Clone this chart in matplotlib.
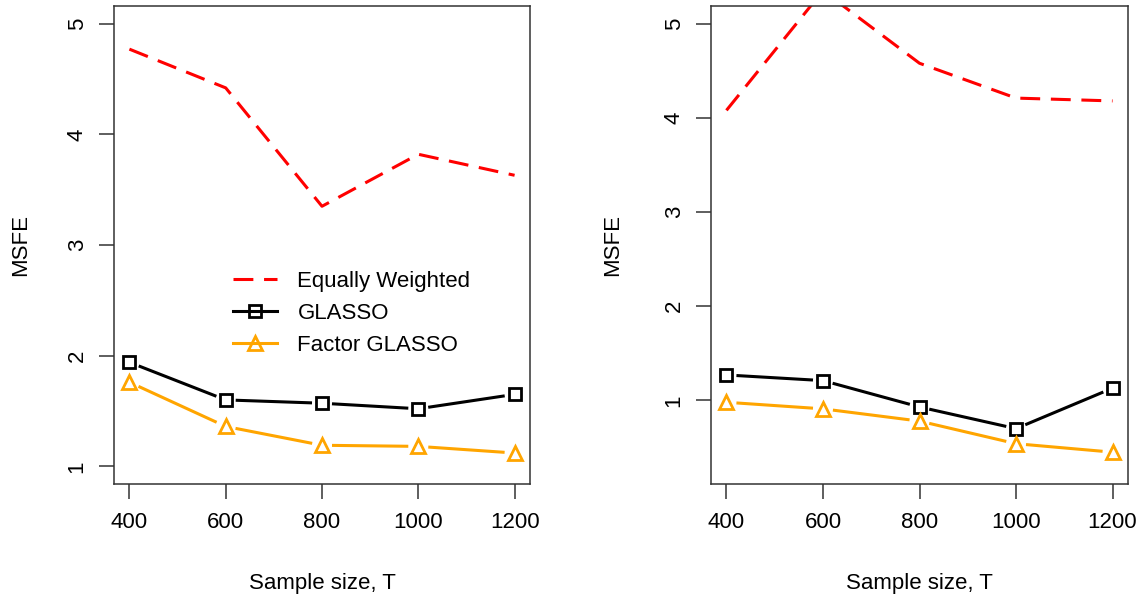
import numpy as np
import matplotlib.pyplot as plt
from matplotlib.lines import Line2D

plt.rcParams['font.family'] = ['Liberation Sans', 'DejaVu Sans']

# data
sample_size = [400, 600, 800, 1000, 1200]

left_equal = [4.77, 4.42, 3.35, 3.82, 3.63]
left_glasso = [1.94, 1.60, 1.57, 1.52, 1.65]
left_factor = [1.76, 1.36, 1.19, 1.18, 1.12]

right_equal = [4.08, 5.35, 4.58, 4.21, 4.18]
right_glasso = [1.27, 1.21, 0.93, 0.70, 1.13]
right_factor = [0.98, 0.91, 0.78, 0.54, 0.45]

y_ticks = [1, 2, 3, 4, 5]
legend_labels = ["Equally Weighted", "GLASSO", "Factor GLASSO"]

RED = "#FF0000"
ORANGE = "#FFA500"
FS = 16
W, H = 1142, 598
GAP = 10  # px gap around points, like R type="b"
DASH = (0, (6.5, 3.5))


def gapped_line(ax, x, y, color, gap=GAP, **kw):
    # draw each segment shortened by gap pixels at both ends
    pts = ax.transData.transform(np.column_stack([x, y]))
    inv = ax.transData.inverted()
    for a, b in zip(pts[:-1], pts[1:]):
        d = b - a
        L = np.hypot(*d)
        if L <= 2 * gap:
            continue
        u = d / L
        seg = inv.transform(np.array([a + u * gap, b - u * gap]))
        ax.plot(seg[:, 0], seg[:, 1], color=color, lw=2.2,
                solid_capstyle='butt', **kw)


def panel(ax, eq, gl, fa, ylim):
    ax.set_xlim(368, 1232)
    ax.set_ylim(*ylim)
    ax.plot(sample_size, eq, color=RED, lw=2.2, linestyle=DASH,
            dash_capstyle='butt')
    gapped_line(ax, sample_size, gl, 'black')
    ax.plot(sample_size, gl, linestyle='none', marker='s', ms=8.5,
            mfc='none', mec='black', mew=2)
    gapped_line(ax, sample_size, fa, ORANGE)
    ax.plot(sample_size, fa, linestyle='none', marker='^', ms=10.5,
            mfc='none', mec=ORANGE, mew=2)
    ax.set_xticks(sample_size)
    ax.set_xticklabels([str(s) for s in sample_size])
    ax.set_yticks(y_ticks)
    ax.set_yticklabels([str(t) for t in y_ticks], rotation=90, va='center')
    ax.tick_params(labelsize=FS, length=11, width=1.1, color='#333333')
    ax.tick_params(axis='x', pad=9)
    ax.tick_params(axis='y', pad=8)
    for s in ax.spines.values():
        s.set_linewidth(1.1)
        s.set_color('#333333')
    ax.set_xlabel("Sample size, T", fontsize=FS, va='center')
    ax.set_ylabel("MSFE", fontsize=FS, va='center')


fig = plt.figure(figsize=(W / 100, H / 100), dpi=100)
top, bottom = 6, 484
ax1 = fig.add_axes([114 / W, 1 - bottom / H, 416 / W, (bottom - top) / H])
ax2 = fig.add_axes([711 / W, 1 - bottom / H, 417 / W, (bottom - top) / H])

panel(ax1, left_equal, left_glasso, left_factor, (0.84, 5.16))
panel(ax2, right_equal, right_glasso, right_factor, (0.112, 5.188))

ax1.yaxis.set_label_coords((21 - 114) / 416, 0.5)
ax2.yaxis.set_label_coords((613 - 711) / 417, 0.5)
ax1.xaxis.set_label_coords(0.5, (484 - 583) / 478)
ax2.xaxis.set_label_coords(0.5, (484 - 583) / 478)

handles = [
    Line2D([], [], color=RED, lw=2.2, linestyle=DASH),
    Line2D([], [], color='black', lw=2.2, marker='s', ms=8.5,
           mfc='none', mew=2),
    Line2D([], [], color=ORANGE, lw=2.2, marker='^', ms=10.5,
           mfc='none', mew=2),
]
ax1.legend(handles, legend_labels, frameon=False, fontsize=FS,
           loc='upper left', bbox_to_anchor=(233 / W, 1 - 271 / H),
           bbox_transform=fig.transFigure, borderpad=0, borderaxespad=0,
           handlelength=2.0, handletextpad=0.9, labelspacing=0.5)

fig.savefig("out.png", dpi=100)
